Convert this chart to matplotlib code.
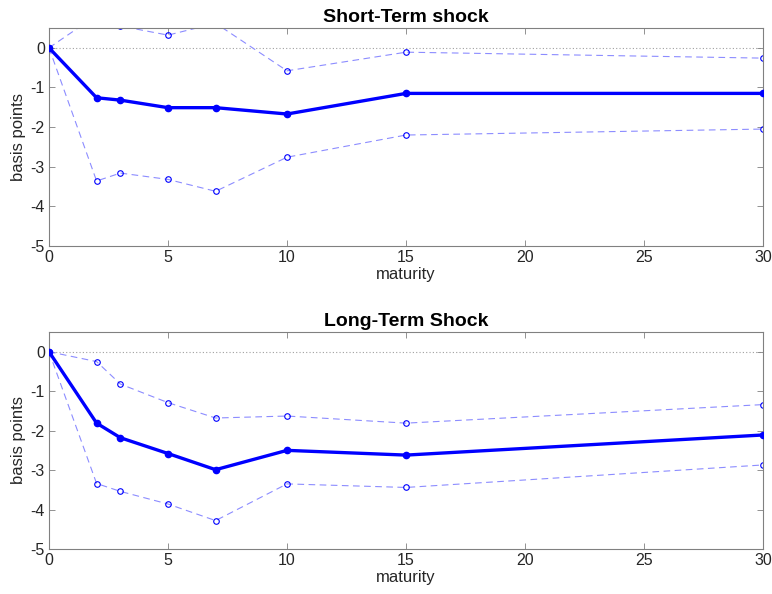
import numpy as np
import matplotlib.pyplot as plt

plt.rcParams['font.family'] = ['Liberation Sans', 'DejaVu Sans']
plt.rcParams['axes.unicode_minus'] = False

maturity = [0, 2, 3, 5, 7, 10, 15, 30]

# short-term shock
st_mid = [0, -1.26, -1.32, -1.51, -1.51, -1.67, -1.15, -1.15]
st_up = [0, 0.82, 0.55, 0.32, 0.62, -0.58, -0.11, -0.26]
st_lo = [0, -3.36, -3.16, -3.32, -3.62, -2.76, -2.20, -2.05]

# long-term shock
lt_mid = [0, -1.81, -2.18, -2.58, -2.99, -2.50, -2.62, -2.11]
lt_up = [0, -0.25, -0.82, -1.29, -1.68, -1.63, -1.81, -1.34]
lt_lo = [0, -3.34, -3.54, -3.86, -4.28, -3.35, -3.44, -2.87]

titles = ['Short-Term shock', 'Long-Term Shock']
panels = [(st_mid, st_up, st_lo), (lt_mid, lt_up, lt_lo)]

fig = plt.figure(figsize=(7.72, 5.94), dpi=100)
W, H = 772, 594
boxes = [(49, 28, 763, 246), (49, 332, 763, 549)]

for (x0, y0, x1, y1), title, (mid, up, lo) in zip(boxes, titles, panels):
    ax = fig.add_axes([x0 / W, 1 - y1 / H, (x1 - x0) / W, (y1 - y0) / H])
    ax.plot([0, 30], [0, 0], ls=(0, (1, 2)), color='#a0a0a0', lw=0.8, zorder=1)
    for band in (up, lo):
        ax.plot(maturity, band, ls=(0, (6, 4)), color=(0.55, 0.55, 1.0), lw=0.8,
                marker='o', ms=4, mfc='none', mec='blue', mew=0.8, zorder=2)
    ax.plot(maturity, mid, color='blue', lw=2.4, marker='o', ms=4.5,
            mfc='blue', mec='blue', zorder=3)
    ax.set_xlim(0, 30)
    ax.set_ylim(-5, 0.5)
    ax.set_xticks([0, 5, 10, 15, 20, 25, 30])
    ax.set_yticks([-5, -4, -3, -2, -1, 0])
    ax.tick_params(direction='in', top=True, right=True, length=4, width=0.6,
                   colors='#808080', labelcolor='#262626', labelsize=11.5, pad=3)
    for s in ax.spines.values():
        s.set_color('#808080')
        s.set_linewidth(0.8)
    ax.set_xlabel('maturity', fontsize=12, color='#262626', labelpad=1)
    ax.set_ylabel('basis points', fontsize=12, color='#262626', labelpad=3)
    ax.set_title(title, fontsize=14, fontweight='bold', pad=4)

fig.savefig('out.png', dpi=100)
